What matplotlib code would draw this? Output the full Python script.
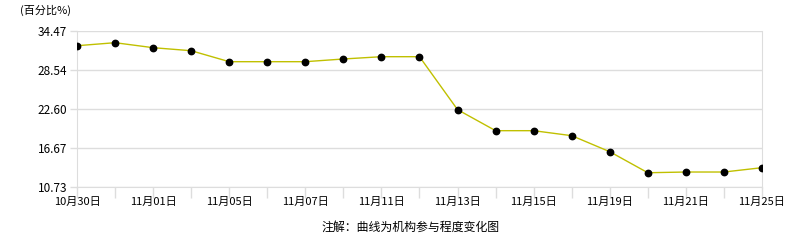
import matplotlib
matplotlib.use("Agg")
import matplotlib.pyplot as plt

plt.rcParams['font.family'] = ['Noto Sans CJK SC', 'DejaVu Sans']

dates = ["10月30日", "10月31日", "11月01日", "11月04日", "11月05日", "11月06日", "11月07日",
         "11月08日", "11月11日", "11月12日", "11月13日", "11月14日", "11月15日", "11月18日",
         "11月19日", "11月20日", "11月21日", "11月22日", "11月25日"]
values = [32.23, 32.69, 31.93, 31.47, 29.80, 29.80, 29.80, 30.21, 30.56, 30.56,
          22.50, 19.30, 19.30, 18.54, 16.10, 12.90, 13.01, 13.01, 13.67]
yticks = [10.73, 16.67, 22.60, 28.54, 34.47]

fig = plt.figure(figsize=(7.86, 2.4), dpi=100)
ax = fig.add_axes([77/786, 1-187/240, (762-77)/786, (187-31)/240])

x = list(range(len(values)))
ax.plot(x, values, color='#c0c000', lw=1.0, zorder=2)
ax.plot(x, values, 'o', color='black', ms=4.6, zorder=3)

ax.set_xlim(0, len(values)-1)
ax.set_ylim(yticks[0], yticks[-1])
ax.set_yticks(yticks)
ax.set_yticklabels([f"{v:.2f}" for v in yticks], fontsize=8.5)
ax.set_xticks(x)
ax.set_xticklabels([d if i % 2 == 0 else "" for i, d in enumerate(dates)], fontsize=8)
ax.tick_params(axis='x', length=8, color='#dddddd', width=1, pad=-1)
ax.tick_params(axis='y', length=5, color='#dddddd', width=1, pad=2)
ax.grid(axis='y', color='#dddddd', lw=1)
ax.set_axisbelow(True)
for s in ['left', 'bottom', 'right']:
    ax.spines[s].set_color('#dddddd')
ax.spines['top'].set_visible(False)

fig.text(20/786, 1-10/240, "(百分比%)", fontsize=8, va='center', ha='left')
fig.text(411/786, 1-227/240, "注解：曲线为机构参与程度变化图", fontsize=8.6, va='center', ha='center')

fig.savefig("out.png", dpi=100)
